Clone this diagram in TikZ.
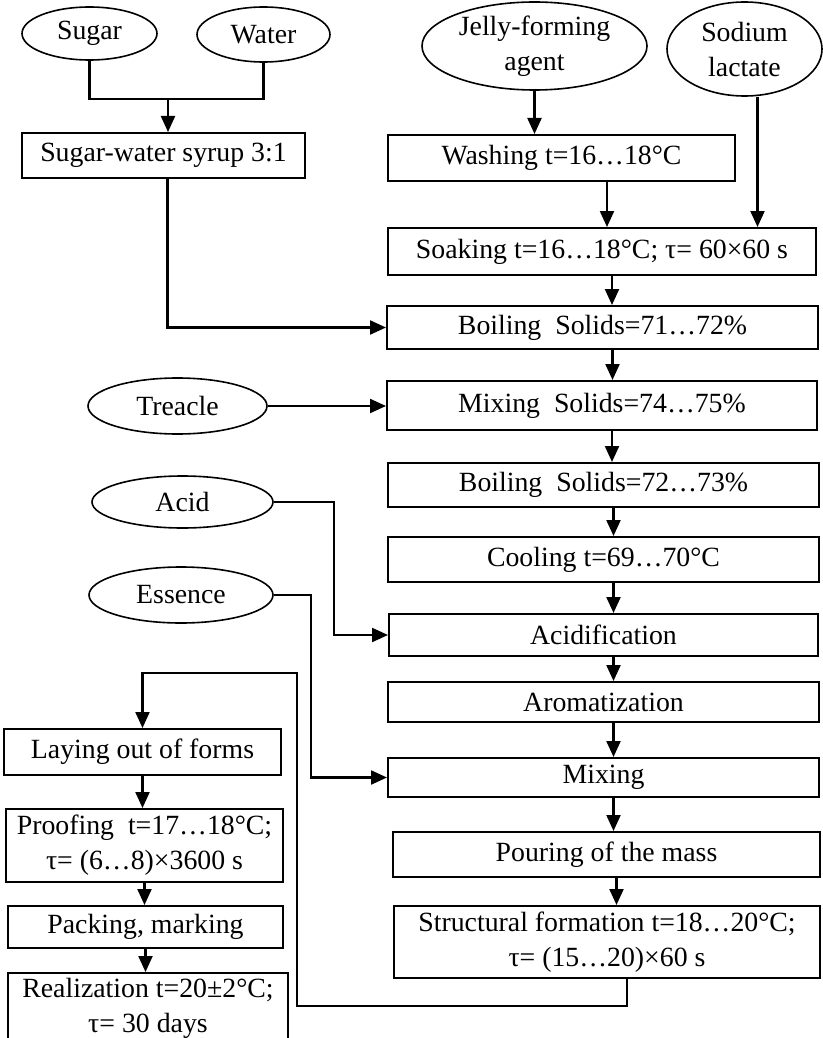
\documentclass[tikz,border=0pt]{standalone}
\usepackage{fontspec}
\setmainfont{Liberation Serif}
\usetikzlibrary{shapes.geometric,arrows.meta}

\begin{document}
\begin{tikzpicture}[x=0.5pt,y=-0.5pt,
        font=\fontsize{13.9}{17.5}\selectfont,
        stage/.style={draw,line width=1pt,rectangle,inner sep=0pt,align=center},
        input/.style={draw,line width=0.8pt,ellipse,inner sep=0pt,align=center},
        flow/.style={line width=1.1pt,-{Triangle[length=8pt,width=7pt]}},
        link/.style={line width=1.1pt}]
    \useasboundingbox (0,0) rectangle (823,1038);

    % raw materials
    \node[input,minimum width=67.5pt,minimum height=26.5pt] (sugar) at (89.5,33.5) {Sugar};
    \node[input,minimum width=66.5pt,minimum height=27.5pt] (water) at (263.5,34.5) {Water};
    \node[input,minimum width=112.5pt,minimum height=44pt] (jelly) at (534.5,46) {Jelly-forming\\agent};
    \node[input,minimum width=77.5pt,minimum height=47pt] (lactate) at (744.5,49) {Sodium\\lactate};
    \node[input,minimum width=89.5pt,minimum height=28pt] (treacle) at (177.5,406) {Treacle};
    \node[input,minimum width=90.5pt,minimum height=26pt] (acid) at (182.5,502) {Acid};
    \node[input,minimum width=92pt,minimum height=28pt] (essence) at (181,595) {Essence};

    % main line
    \node[stage,minimum width=141.5pt,minimum height=22.5pt] (syrup) at (163.5,155.5) {Sugar-water syrup 3:1};
    \node[stage,minimum width=173.5pt,minimum height=23pt] (washing) at (561.5,158) {Washing t=16…18°C};
    \node[stage,minimum width=214pt,minimum height=23.5pt] (soaking) at (602,251.5) {Soaking t=16…18°C; τ= 60×60 s};
    \node[stage,minimum width=215.5pt,minimum height=21.5pt] (boil1) at (602.5,327.5) {Boiling\ \ Solids=71…72\%};
    \node[stage,minimum width=215pt,minimum height=24.5pt] (mix1) at (602,405.5) {Mixing\ \ Solids=74…75\%};
    \node[stage,minimum width=215.5pt,minimum height=22pt] (boil2) at (603.5,485) {Boiling\ \ Solids=72…73\%};
    \node[stage,minimum width=215.5pt,minimum height=22.5pt] (cool) at (603.5,559.5) {Cooling t=69…70°C};
    \node[stage,minimum width=214.5pt,minimum height=21pt] (acidify) at (603.5,635) {Acidification};
    \node[stage,minimum width=215.5pt,minimum height=20pt] (aroma) at (603.5,702) {Aromatization};
    \node[stage,minimum width=215.5pt,minimum height=19.5pt] (mix2) at (603.5,777.5) {Mixing};
    \node[stage,minimum width=213.5pt,minimum height=22.5pt] (pour) at (606.5,854.5) {Pouring of the mass};
    \node[stage,minimum width=213pt,minimum height=36pt] (struct) at (607,942) {Structural formation t=18…20°C;\\τ= (15…20)×60 s};

    % finishing
    \node[stage,minimum width=138.5pt,minimum height=23pt] (laying) at (142.5,752) {Laying out of forms};
    \node[stage,minimum width=138.5pt,minimum height=36.5pt] (proof) at (144.5,845.5) {Proofing\ \ t=17…18°C;\\τ= (6…8)×3600 s};
    \node[stage,minimum width=137.5pt,minimum height=21pt] (pack) at (145.5,927) {Packing, marking};
    \node[stage,minimum width=140pt,minimum height=35pt] (sale) at (148,1008) {Realization t=20±2°C;\\τ= 30 days};

    % syrup
    \coordinate (join) at (168,99);
    \draw[link] (sugar.south) |- (join) -| (water.south);
    \draw[flow] (join) -- (join |- syrup.north);
    \draw[flow] ([xshift=2pt]syrup.south) |- (boil1.west);

    % jelly-forming agent
    \draw[flow] (jelly.south) -- (jelly.south |- washing.north);
    \draw[flow] ([xshift=2.5pt]washing.south -| soaking.north) -- ([xshift=2.5pt]soaking.north);
    \draw[flow] ([xshift=6.5pt]lactate.south) -- ([xshift=6.5pt]lactate.south |- soaking.north);

    \foreach \a/\b in {soaking/boil1,boil1/mix1,mix1/boil2,boil2/cool,cool/acidify,
                      acidify/aroma,aroma/mix2,mix2/pour,pour/struct}
        \draw[flow] ([xshift=5pt]\a.south) -- ([xshift=5pt]\a.south |- \b.north);

    % side inputs
    \draw[flow] (treacle.east) -- (treacle.east -| mix1.west);
    \draw[flow] (acid.east) -- ++(60,0) |- (acidify.west);
    \draw[flow] (essence.east) -- ++(37,0) |- (mix2.west);

    % back to the forms
    \coordinate (turnB) at (297,1006);
    \coordinate (turnT) at (297,673);
    \draw[flow] ([xshift=10pt]struct.south) |- (turnB) -- (turnT) -| (laying.north);

    \draw[flow] (laying.south) -- (laying.south |- proof.north);
    \draw[flow] (proof.south) -- (proof.south |- pack.north);
    \draw[flow] (pack.south) -- (pack.south |- sale.north);
\end{tikzpicture}
\end{document}
